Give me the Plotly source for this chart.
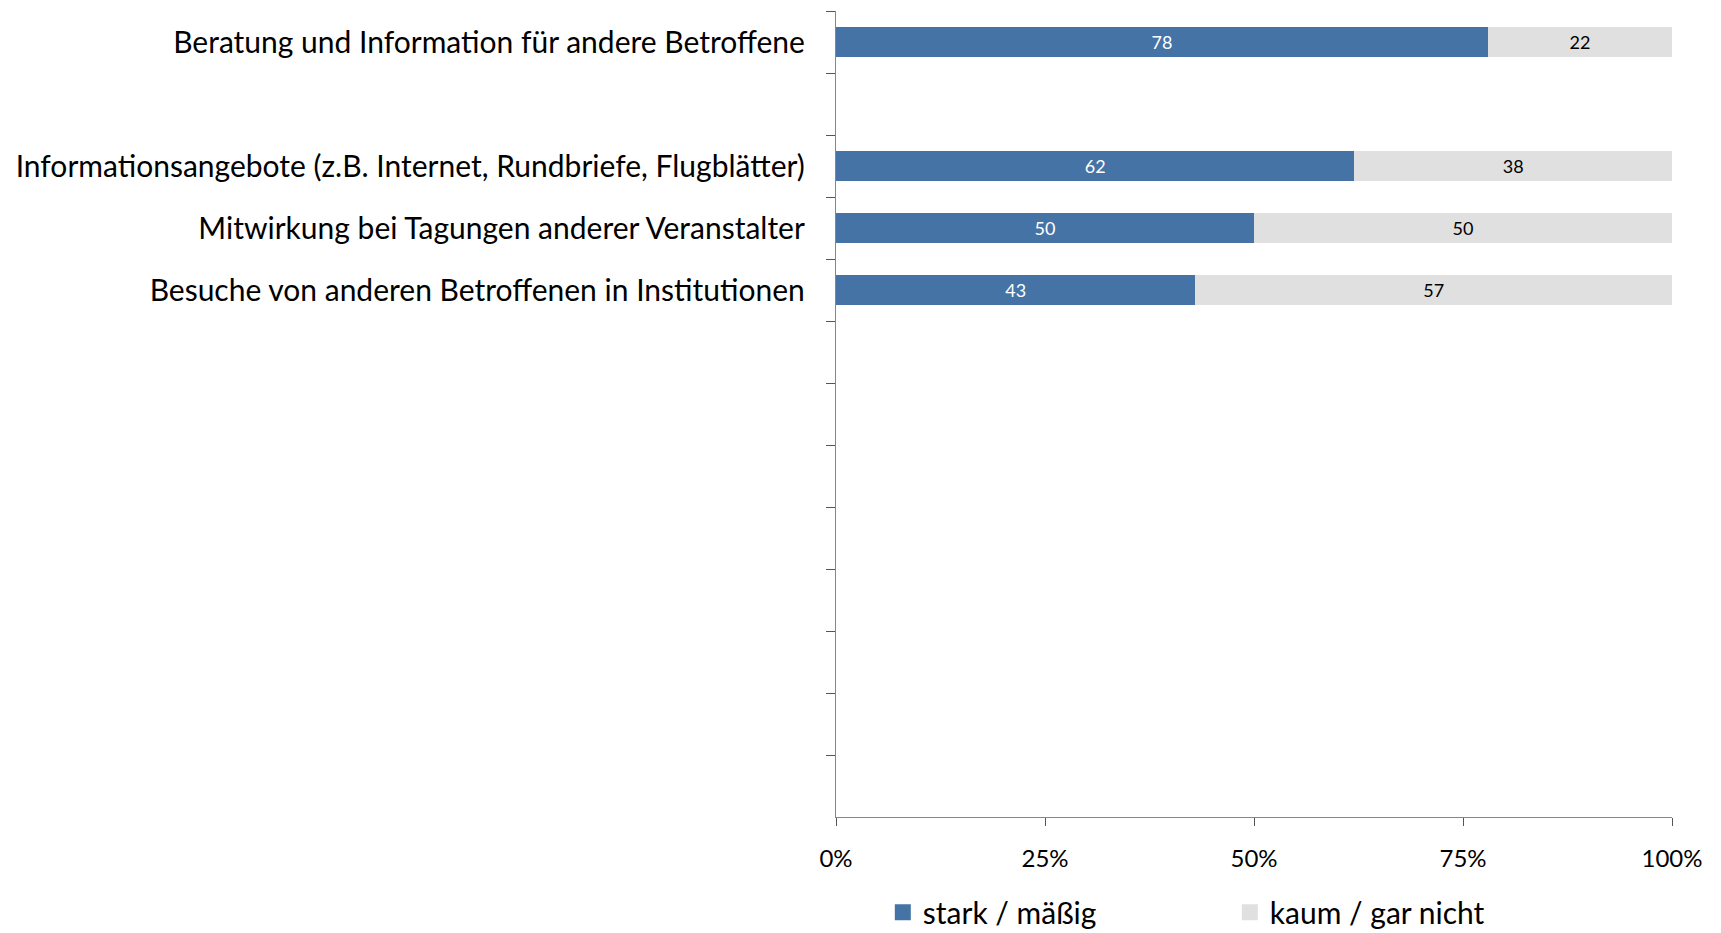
import plotly.graph_objects as go

categories = [
    "Beratung und Information für andere Betroffene",
    " ",
    "Informationsangebote (z.B. Internet, Rundbriefe, Flugblätter)",
    "Mitwirkung bei Tagungen anderer Veranstalter",
    "Besuche von anderen Betroffenen in Institutionen",
    "  ", "   ", "    ", "     ", "      ", "       ", "        ", "         ",
]
stark = [78, None, 62, 50, 43, None, None, None, None, None, None, None, None]
kaum = [22, None, 38, 50, 57, None, None, None, None, None, None, None, None]
series_names = ["stark / mäßig", "kaum / gar nicht"]
x_ticks = [0, 25, 50, 75, 100]
x_tick_labels = ["0%", "25%", "50%", "75%", "100%"]

BLUE = "#4573A5"
GRAY = "#E0E0E0"
FONT = "Lato"

fig = go.Figure()
fig.add_trace(go.Bar(
    y=categories, x=stark, orientation="h", name=series_names[0],
    marker=dict(color=BLUE, line=dict(width=0)),
    text=[str(v) if v is not None else "" for v in stark],
    textposition="inside", insidetextanchor="middle", textangle=0,
    textfont=dict(color="white", size=18, family=FONT),
    showlegend=False, hoverinfo="skip",
))
fig.add_trace(go.Bar(
    y=categories, x=kaum, orientation="h", name=series_names[1],
    marker=dict(color=GRAY, line=dict(width=0)),
    text=[str(v) if v is not None else "" for v in kaum],
    textposition="inside", insidetextanchor="middle", textangle=0,
    textfont=dict(color="black", size=18, family=FONT),
    showlegend=False, hoverinfo="skip",
))
# legend entries
for nm, col in zip(series_names, [BLUE, GRAY]):
    fig.add_trace(go.Scatter(
        x=[None], y=[None], mode="markers", name=nm,
        marker=dict(symbol="square", size=16, color=col),
        showlegend=True,
    ))

fig.update_layout(
    barmode="stack",
    bargap=0.52,
    width=1721, height=933,
    margin=dict(l=828, r=57, t=3, b=88),
    paper_bgcolor="white", plot_bgcolor="white",
    font=dict(family=FONT, color="black"),
    uniformtext=dict(minsize=18, mode="show"),
    legend=dict(
        orientation="h", x=0.056, y=-0.086, xanchor="left", yanchor="top",
        traceorder="normal",
        font=dict(size=30, family=FONT, color="black"),
        entrywidth=302, entrywidthmode="pixels",
        itemclick=False, itemdoubleclick=False,
    ),
    xaxis=dict(
        range=[0, 100], tickvals=x_ticks, ticktext=x_tick_labels,
        showgrid=False, zeroline=False,
        showline=True, linecolor="#868686", linewidth=1.3,
        ticks="outside", ticklen=8, tickcolor="#555555", tickwidth=1.3,
        tickfont=dict(size=24, family=FONT, color="black"),
        ticklabelstandoff=12,
        fixedrange=True,
    ),
    yaxis=dict(
        type="category", categoryorder="array", categoryarray=categories,
        range=[12.5, -0.5],
        tickson="boundaries",
        showgrid=False, zeroline=False,
        showline=True, linecolor="#868686", linewidth=1.3,
        ticks="outside", ticklen=9, tickcolor="#555555", tickwidth=1.3,
        tickfont=dict(size=30, family=FONT, color="black"),
        ticklabelstandoff=24,
        fixedrange=True,
    ),
)

fig.write_html("out.html")
